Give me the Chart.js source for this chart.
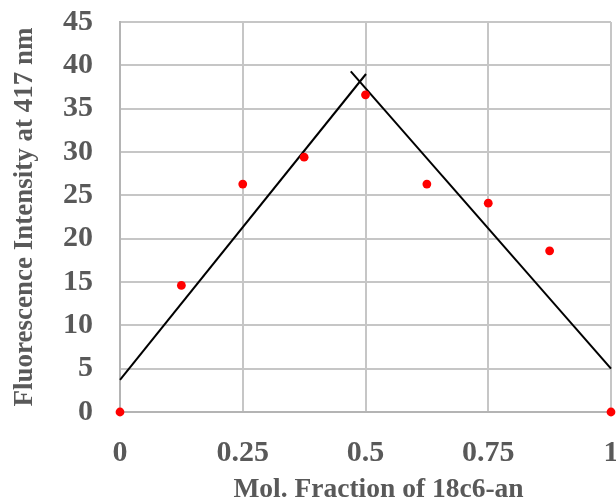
<!DOCTYPE html>
<html>
<head>
<meta charset="utf-8">
<script src="https://cdn.jsdelivr.net/npm/chart.js@4/dist/chart.umd.min.js"></script>
<style>
html,body{margin:0;padding:0;background:#fff;}
#wrap{width:616px;height:499px;position:relative;}
</style>
</head>
<body>
<div id="wrap"><canvas id="c" width="616" height="499"></canvas></div>
<script>
// Data
const molFraction = [0, 0.125, 0.25, 0.375, 0.5, 0.625, 0.75, 0.875, 1];
const intensity = [0, 14.6, 26.3, 29.4, 36.6, 26.3, 24.1, 18.6, 0];
const fitLeftX = [0, 0.501];
const fitLeftY = [3.7, 39.0];
const fitRightX = [0.47, 1];
const fitRightY = [39.3, 5.0];
const xTickValues = [0, 0.25, 0.5, 0.75, 1];
const xTickLabels = ['0', '0.25', '0.5', '0.75', '1'];
const yTickValues = [0, 5, 10, 15, 20, 25, 30, 35, 40, 45];
const xTitle = 'Mol. Fraction of 18c6-an';
const yTitle = 'Fluorescence Intensity at 417 nm';

const toPts = (xs, ys) => xs.map((x, i) => ({x: x, y: ys[i]}));
const textColor = '#595959';
const gridColor = '#c6c6c6';
const fontFamily = '"Liberation Serif", "Times New Roman", serif';

// Draws the x-axis title slightly right of the axis centre, as in the reference
const xTitlePlugin = {
  id: 'xTitle',
  afterDraw(chart) {
    const ctx = chart.ctx;
    const area = chart.chartArea;
    ctx.save();
    ctx.font = 'bold 27.5px ' + fontFamily;
    ctx.fillStyle = textColor;
    ctx.textAlign = 'center';
    ctx.textBaseline = 'alphabetic';
    const cx = (area.left + area.right) / 2 + 13;
    ctx.fillText(xTitle, cx, 497);
    ctx.restore();
  }
};

new Chart(document.getElementById('c'), {
  type: 'scatter',
  data: {
    datasets: [
      {
        label: 'Data',
        data: toPts(molFraction, intensity),
        backgroundColor: '#ff0000',
        borderColor: '#ff0000',
        pointRadius: 4.4,
        pointHoverRadius: 4.4,
        borderWidth: 0,
        clip: false,
        order: 0
      },
      {
        label: 'Fit1',
        type: 'line',
        data: toPts(fitLeftX, fitLeftY),
        borderColor: '#000000',
        borderWidth: 2,
        pointRadius: 0,
        fill: false,
        showLine: true,
        clip: false,
        order: 1
      },
      {
        label: 'Fit2',
        type: 'line',
        data: toPts(fitRightX, fitRightY),
        borderColor: '#000000',
        borderWidth: 2,
        pointRadius: 0,
        fill: false,
        showLine: true,
        clip: false,
        order: 1
      }
    ]
  },
  plugins: [xTitlePlugin],
  options: {
    responsive: false,
    animation: false,
    devicePixelRatio: 1,
    layout: {padding: {left: 0, right: 5, top: 22, bottom: 0}},
    plugins: {legend: {display: false}, tooltip: {enabled: false}},
    scales: {
      x: {
        type: 'linear',
        min: 0, max: 1,
        afterBuildTicks: (s) => { s.ticks = xTickValues.map(v => ({value: v})); },
        afterFit: (s) => { s.height = 87; s.paddingLeft = 0; s.paddingRight = 0; },
        ticks: {
          padding: 23,
          color: textColor,
          font: {family: fontFamily, size: 30, weight: 'bold'},
          maxRotation: 0,
          callback: (v) => { const i = xTickValues.indexOf(v); return i >= 0 ? xTickLabels[i] : ''; }
        },
        grid: {color: gridColor, lineWidth: 2, drawTicks: false},
        border: {color: '#b4b4b4', width: 2},
        title: {display: false}
      },
      y: {
        type: 'linear',
        min: 0, max: 45,
        afterBuildTicks: (s) => { s.ticks = yTickValues.map(v => ({value: v})); },
        afterFit: (s) => { s.width = 120; s.paddingTop = 0; s.paddingBottom = 0; },
        ticks: {
          padding: 27,
          color: textColor,
          font: {family: fontFamily, size: 30, weight: 'bold'},
          callback: (v) => String(v)
        },
        grid: {color: gridColor, lineWidth: 2, drawTicks: false},
        border: {color: '#b4b4b4', width: 2},
        title: {
          display: true,
          text: yTitle,
          color: textColor,
          font: {family: fontFamily, size: 27, weight: 'bold', lineHeight: 1.2},
          padding: {top: 9, bottom: 0}
        }
      }
    }
  }
});
</script>
</body>
</html>
